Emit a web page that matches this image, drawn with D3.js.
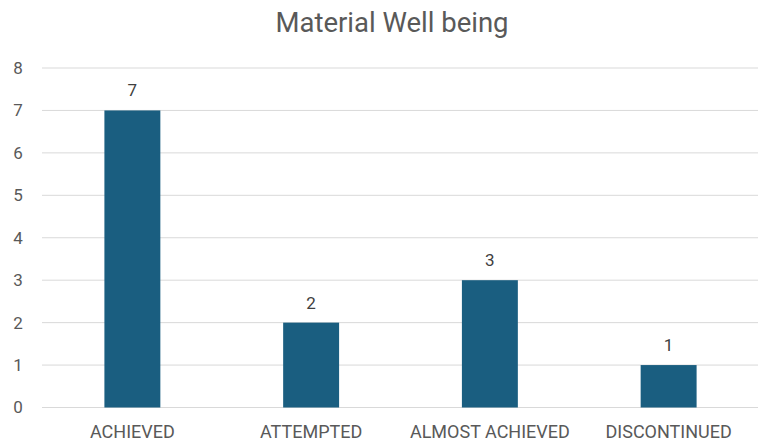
<!DOCTYPE html>
<html><head><meta charset="utf-8">
<script src="https://cdn.jsdelivr.net/npm/d3@7"></script>
<style>body{margin:0;background:#fff;}svg{display:block;}</style>
</head><body><svg id="c" width="758" height="442"></svg>
<script>
const categories = ["ACHIEVED","ATTEMPTED","ALMOST ACHIEVED","DISCONTINUED"];
const values = [7,2,3,1];
const yTicks = [0,1,2,3,4,5,6,7,8];
const title = "Material Well being";

const W=758,H=442, m={left:43,right:0,top:68,bottom:34.5};
const svg=d3.select("#c");
const font="'Roboto','Noto Sans',sans-serif";
const x=d3.scaleBand().domain(categories).range([m.left,W-m.right]).padding(0);
const y=d3.scaleLinear().domain([0,8]).range([H-m.bottom,m.top]);
const barW=x.bandwidth()*0.313;

svg.append("text").attr("x",392).attr("y",32).attr("text-anchor","middle")
 .attr("font-family",font).attr("font-size",27.5).attr("fill","#595959").text(title);

const g=svg.append("g");
g.selectAll("line.grid").data(yTicks).join("line").attr("class","grid")
 .attr("x1",m.left-1).attr("x2",W-m.right).attr("y1",d=>y(d)).attr("y2",d=>y(d))
 .attr("stroke","#d9d9d9").attr("stroke-width",1);
g.selectAll("text.yt").data(yTicks).join("text").attr("class","yt")
 .attr("x",18).attr("y",d=>y(d)).attr("dy","0.35em").attr("text-anchor","middle")
 .attr("font-family",font).attr("font-size",17).attr("fill","#595959").text(d=>d);

g.selectAll("rect").data(values).join("rect")
 .attr("x",(d,i)=>x(categories[i])+x.bandwidth()/2-barW/2).attr("width",barW)
 .attr("y",d=>y(d)).attr("height",d=>y(0)-y(d)).attr("fill","#1a5e80");
g.selectAll("text.lbl").data(values).join("text").attr("class","lbl")
 .attr("x",(d,i)=>x(categories[i])+x.bandwidth()/2).attr("y",d=>y(d)-14)
 .attr("text-anchor","middle").attr("font-family",font).attr("font-size",17).attr("fill","#404040").text(d=>d);
g.selectAll("text.cat").data(categories).join("text").attr("class","cat")
 .attr("x",d=>x(d)+x.bandwidth()/2).attr("y",y(0)+30)
 .attr("text-anchor","middle").attr("font-family",font).attr("font-size",18).attr("fill","#595959").text(d=>d);
</script></body></html>
